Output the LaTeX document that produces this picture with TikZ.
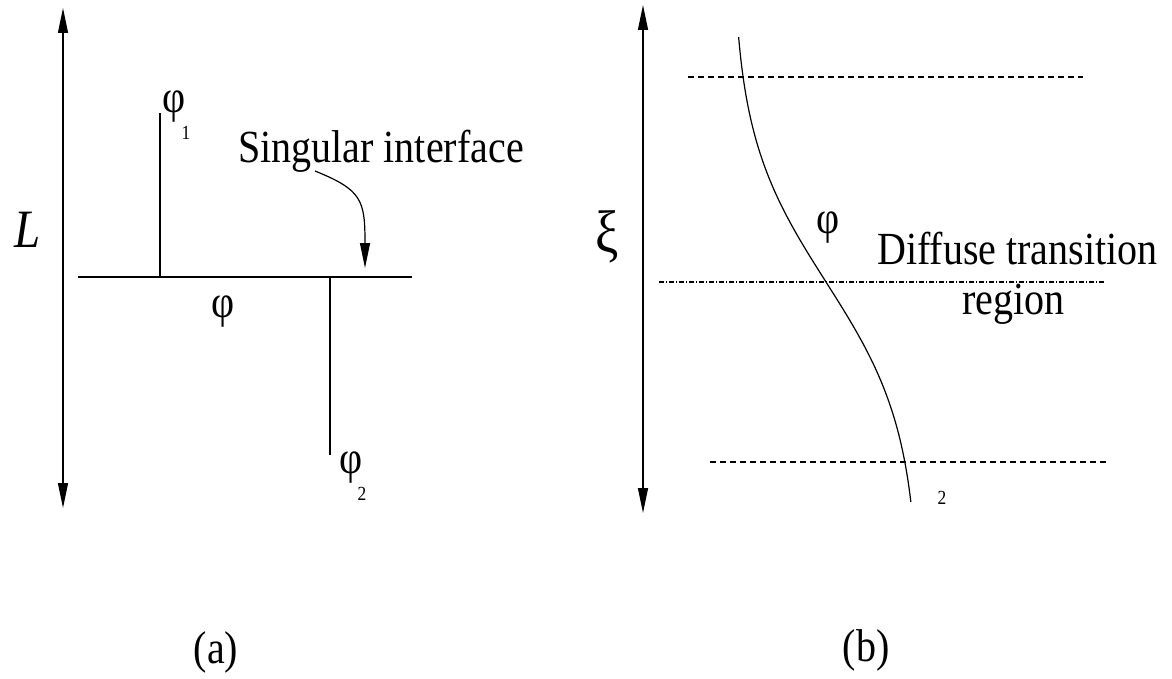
\documentclass[tikz,border=0pt]{standalone}
\usepackage{fontspec}
\setmainfont{Liberation Serif}[FakeStretch=0.87]
\usetikzlibrary{arrows.meta}
\tikzset{
  lbl/.style={inner sep=0pt, font=\fontsize{46}{52}\selectfont},
  sublbl/.style={inner sep=0pt, font=\fontsize{20}{22}\selectfont},
  thinline/.style={line width=1.2pt},
  axisarrow/.style={line width=1.3pt, {Triangle[length=25pt,width=10pt]}-{Triangle[length=25pt,width=10pt]}},
  pointer/.style={line width=1.2pt, -{Triangle[length=25pt,width=10pt]}},
  bounddash/.style={line width=1.1pt, dash pattern=on 6pt off 4pt},
  middash/.style={line width=1.1pt, dash pattern=on 5pt off 2pt on 1pt off 2pt},
}
\begin{document}
\begin{tikzpicture}[x=1pt,y=-1pt]
\useasboundingbox (0,0) rectangle (1172,679);
% (a) singular interface
\coordinate (Ltop) at (63,8);
\coordinate (Lbot) at (63,508);
\draw[axisarrow] (Ltop) -- (Lbot);
\node[lbl, font=\fontsize{54}{58}\selectfont\itshape] (L) at (28,230) {L};
\coordinate (ifl) at (78,277);
\coordinate (ifr) at (412,277);
\draw[thinline] (ifl) -- (ifr);
\coordinate (phaA) at (160,277);
\coordinate (phaAtop) at (160,113);
\draw[thinline] (phaA) -- (phaAtop);
\coordinate (phaB) at (330,277);
\coordinate (phaBbot) at (330,455);
\draw[thinline] (phaB) -- (phaBbot);
\node[lbl] (phi1) at (174,107) {φ};
\node[sublbl] (sub1) at (186,133) {1};
\node[lbl] (phia) at (223,312) {φ};
\node[lbl] (phi2) at (351,468) {φ};
\node[sublbl] (sub2) at (362,494) {2};
\node[lbl, anchor=base west] (sing) at (238,163) {Singular interface};
\coordinate (singfoot) at (315,171);
\coordinate (singtip) at (365,268);
\draw[pointer] (singfoot) .. controls (362,190) and (365,200) .. (singtip);
\node[lbl] (capa) at (216,652) {(a)};
% (b) diffuse transition region
\coordinate (xitop) at (643,5);
\coordinate (xibot) at (643,513);
\draw[axisarrow] (xitop) -- (xibot);
\node[lbl, font=\fontsize{60}{64}\selectfont] (xi) at (607,237) {ξ};
\coordinate (topl) at (688,77);
\coordinate (topr) at (1083,77);
\draw[bounddash] (topl) -- (topr);
\coordinate (midl) at (659,282);
\coordinate (midr) at (1105,282);
\draw[middash] (midl) -- (midr);
\coordinate (botl) at (710,462);
\coordinate (botr) at (1107,462);
\draw[bounddash] (botl) -- (botr);
\draw[thinline] plot[domain=37:502, samples=80, smooth] ({826+94*tanh((\x-282)/148)}, \x);
\node[lbl] (phib) at (828,228) {φ};
\node[sublbl] (subb) at (942,498) {2};
\node[lbl, anchor=base west] (diff) at (877,264) {Diffuse transition};
\node[lbl, anchor=base west] (reg) at (962,314) {region};
\node[lbl] (capb) at (866,650) {(b)};
\end{tikzpicture}
\end{document}
